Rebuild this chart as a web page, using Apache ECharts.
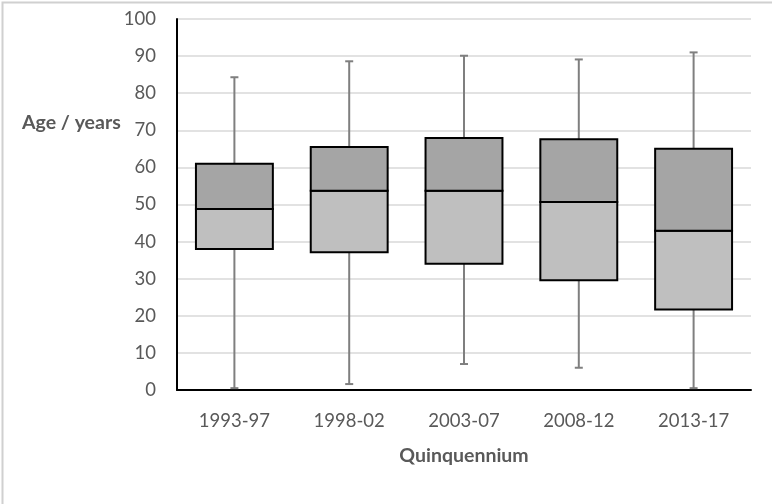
<!DOCTYPE html>
<html lang="en">
<head>
    <meta charset="UTF-8">
    <title>Age by quinquennium</title>
    <script src="https://cdn.jsdelivr.net/npm/echarts@6/dist/echarts.min.js"></script>
    <style>
        html, body { margin: 0; padding: 0; background: #fff; }
        #container { width: 772px; height: 504px; }
    </style>
</head>
<body>
<div id="container"></div>
<script>
    // data
    var periods = ['1993-97', '1998-02', '2003-07', '2008-12', '2013-17'];
    var minVals = [0.5, 1.6, 7.0, 6.0, 0.5];
    var q1Vals = [38.0, 37.1, 34.0, 29.6, 21.7];
    var medianVals = [48.8, 53.7, 53.7, 50.7, 42.9];
    var q3Vals = [61.0, 65.5, 67.9, 67.6, 65.0];
    var maxVals = [84.3, 88.6, 90.1, 89.1, 91.0];
    var yTicks = [0, 10, 20, 30, 40, 50, 60, 70, 80, 90, 100];

    var rows = periods.map(function (p, i) {
        return [i, minVals[i], q1Vals[i], medianVals[i], q3Vals[i], maxVals[i]];
    });

    var myChart = echarts.init(document.getElementById('container'));

    function renderBox(params, api) {
        var x = api.value(0);
        var pMin = api.coord([x, api.value(1)]);
        var pQ1 = api.coord([x, api.value(2)]);
        var pMed = api.coord([x, api.value(3)]);
        var pQ3 = api.coord([x, api.value(4)]);
        var pMax = api.coord([x, api.value(5)]);
        var bw = api.size([1, 0])[0] * 0.67;
        var cx = pMin[0];
        var left = cx - bw / 2;
        var whisker = { stroke: '#7f7f7f', lineWidth: 2 };
        return {
            type: 'group',
            children: [
                { type: 'line', shape: { x1: cx, y1: pMin[1], x2: cx, y2: pQ1[1] }, style: whisker },
                { type: 'line', shape: { x1: cx, y1: pQ3[1], x2: cx, y2: pMax[1] }, style: whisker },
                { type: 'line', shape: { x1: cx - 4, y1: pMin[1], x2: cx + 4, y2: pMin[1] }, style: whisker },
                { type: 'line', shape: { x1: cx - 4, y1: pMax[1], x2: cx + 4, y2: pMax[1] }, style: whisker },
                { type: 'rect', shape: { x: left, y: pMed[1], width: bw, height: pQ1[1] - pMed[1] },
                    style: { fill: '#bfbfbf', stroke: '#000', lineWidth: 2 } },
                { type: 'rect', shape: { x: left, y: pQ3[1], width: bw, height: pMed[1] - pQ3[1] },
                    style: { fill: '#a5a5a5', stroke: '#000', lineWidth: 2 } }
            ]
        };
    }

    var option = {
        animation: false,
        textStyle: { fontFamily: 'Lato' },
        grid: { left: 177, right: 21, top: 19, bottom: 114 },
        graphic: [
            { type: 'rect', left: 0, top: 0, z: -1, silent: true,
                shape: { x: 0, y: 0, width: 771, height: 503 },
                style: { fill: 'none', stroke: '#d0d0d0', lineWidth: 2 } },
            { type: 'text', left: 22, top: 113,
                style: { text: 'Age / years', font: 'bold 19.5px Lato', fill: '#595959' } }
        ],
        xAxis: {
            type: 'category',
            data: periods,
            name: 'Quinquennium',
            nameLocation: 'middle',
            nameGap: 56,
            nameTextStyle: { fontSize: 19.5, fontWeight: 'bold', color: '#595959' },
            axisLine: { lineStyle: { color: '#000', width: 2 } },
            axisTick: { show: false },
            axisLabel: { fontSize: 18.5, color: '#595959', margin: 22 }
        },
        yAxis: {
            type: 'value',
            min: yTicks[0],
            max: yTicks[yTicks.length - 1],
            interval: 10,
            axisLine: { show: true, lineStyle: { color: '#000', width: 2 } },
            axisTick: { show: false },
            axisLabel: { fontSize: 18.5, color: '#595959', margin: 21 },
            splitLine: { lineStyle: { color: '#d9d9d9', width: 1.5 } }
        },
        series: [{
            type: 'custom',
            renderItem: renderBox,
            encode: { x: 0, y: [1, 2, 3, 4, 5] },
            data: rows
        }]
    };
    myChart.setOption(option);
</script>
</body>
</html>
